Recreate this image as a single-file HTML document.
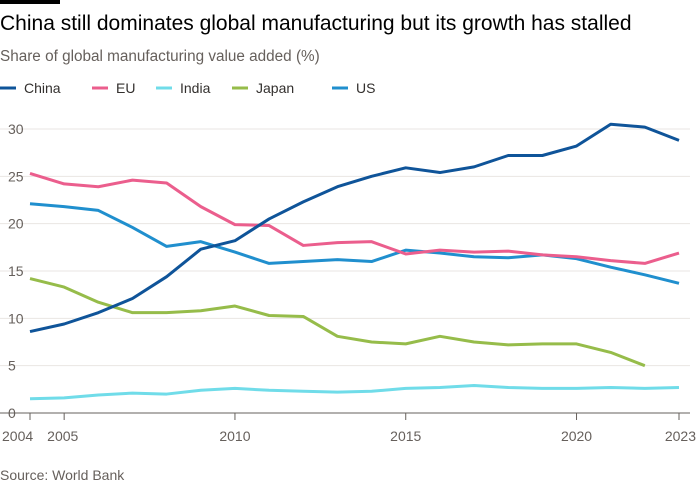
<!DOCTYPE html>
<html><head><meta charset="utf-8"><style>
body{margin:0;background:#fff;font-family:"Liberation Sans",sans-serif;}
#wrap{position:relative;width:700px;height:500px;overflow:hidden;background:#fff}
</style></head><body>
<div id="wrap">
<svg id="svg" width="700" height="500">
<rect x="0" y="0" width="60" height="4" fill="#000"/>
<text x="0" y="30" font-size="21" fill="#000">China still dominates global manufacturing but its growth has stalled</text>
<text x="0" y="61" font-size="15.3" fill="#66605c">Share of global manufacturing value added (%)</text>
<g id="legend"></g>
<g id="grid"></g>
<g id="xaxis"></g>
<g id="lines"></g>
<text x="0" y="480" font-size="14" fill="#66605c">Source: World Bank</text>
</svg>
</div>
<script>
const years=[2004,2005,2006,2007,2008,2009,2010,2011,2012,2013,2014,2015,2016,2017,2018,2019,2020,2021,2022,2023];
const china=[8.6,9.4,10.6,12.1,14.4,17.3,18.2,20.5,22.3,23.9,25.0,25.9,25.4,26.0,27.2,27.2,28.2,30.5,30.2,28.8];
const eu=[25.3,24.2,23.9,24.6,24.3,21.8,19.9,19.8,17.7,18.0,18.1,16.8,17.2,17.0,17.1,16.7,16.5,16.1,15.8,16.9];
const india=[1.5,1.6,1.9,2.1,2.0,2.4,2.6,2.4,2.3,2.2,2.3,2.6,2.7,2.9,2.7,2.6,2.6,2.7,2.6,2.7];
const japan=[14.2,13.3,11.7,10.6,10.6,10.8,11.3,10.3,10.2,8.1,7.5,7.3,8.1,7.5,7.2,7.3,7.3,6.4,5.0];
const us=[22.1,21.8,21.4,19.6,17.6,18.1,17.0,15.8,16.0,16.2,16.0,17.2,16.9,16.5,16.4,16.7,16.3,15.4,14.6,13.7];
const yTicks=[0,5,10,15,20,25,30];
const xTicks=[2004,2005,2010,2015,2020,2023];
const seriesNames=["China","EU","India","Japan","US"];
const NS="http://www.w3.org/2000/svg";
const x=v=>30+(v-2004)*(649/19);
const y=v=>413-v*(284/30);
function mk(tag,attrs,parent){const e=document.createElementNS(NS,tag);for(const k in attrs)e.setAttribute(k,attrs[k]);parent.appendChild(e);return e;}
const grid=document.getElementById('grid');
yTicks.forEach(t=>{
 const l=mk('line',{x1:0,x2:690,y1:y(t),y2:y(t),stroke:t===0?'#66605c':'#e9e6e3','stroke-width':1},grid);
 
 
 const tx=mk('text',{x:8,y:y(t)+5,'font-size':14,fill:'#66605c'},grid);
 tx.textContent=t;
 
 
});
const xa=document.getElementById('xaxis');
xTicks.forEach(t=>{
 const l=mk('line',{x1:x(t),x2:x(t),y1:413,y2:420,stroke:'#66605c'},xa);
 
 
 const anchor=t===2004?'start':(t===2005?'start':(t===2023?'end':'middle'));
 const xx=t===2004?2:(t===2005?x(t)-17:(t===2023?696:x(t)));
 const tx=mk('text',{x:xx,y:441,'font-size':14,fill:'#66605c','text-anchor':anchor},xa);
 tx.textContent=t;
 
 
});
const data=[china,eu,india,japan,us];
const colors=['#0f5499','#eb5e8d','#70dce9','#96bc4a','#208fce'];
const lg=document.getElementById('legend');
const lx=[0,92,156,232,332];
seriesNames.forEach((n,i)=>{
 const l=mk('line',{x1:lx[i],x2:lx[i]+16,y1:88,y2:88,stroke:colors[i],'stroke-width':3},lg);
 
 
 const t=mk('text',{x:lx[i]+24,y:93,'font-size':14,fill:'#33302e'},lg);
 t.textContent=n;
 
 
});
const lines=document.getElementById('lines');
[2,3,4,1,0].forEach(i=>{
 const pts=data[i].map((v,j)=>x(years[j])+','+y(v)).join(' ');
 const p=mk('polyline',{points:pts,fill:'none',stroke:colors[i],'stroke-width':3,'stroke-linejoin':'round'},lines);
 
 
});
</script>
</body></html>
